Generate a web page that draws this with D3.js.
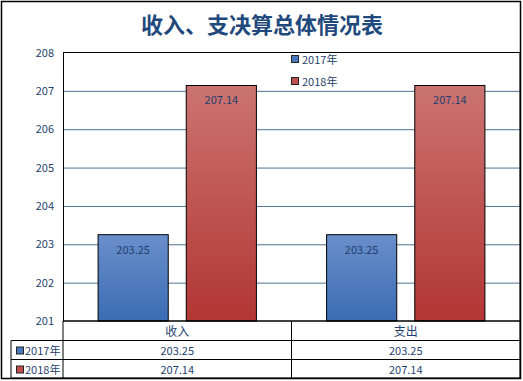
<!DOCTYPE html>
<html><head><meta charset="utf-8">
<script src="https://cdn.jsdelivr.net/npm/d3@7"></script>
<style>body{margin:0;background:#fff}svg{display:block}</style>
</head><body>
<script>
const categories = ["收入", "支出"];
const seriesNames = ["2017年", "2018年"];
const values2017 = [203.25, 203.25];
const values2018 = [207.14, 207.14];
const yTicks = [201, 202, 203, 204, 205, 206, 207, 208];
const title = "收入、支决算总体情况表";

(function () {
const W = 523, H = 381;
const svg = d3.select("body").append("svg").attr("width", W).attr("height", H);
const font = "'Microsoft YaHei','Noto Sans CJK SC','DejaVu Sans',sans-serif";
const txtColor = "#1F3F6E";

const defs = svg.append("defs");
function grad(id, c1, c2) {
  const g = defs.append("linearGradient").attr("id", id).attr("x1", 0).attr("y1", 0).attr("x2", 0).attr("y2", 1);
  g.append("stop").attr("offset", "0%").attr("stop-color", c1);
  g.append("stop").attr("offset", "100%").attr("stop-color", c2);
}
grad("gBlue", "#6A8FCB", "#3A6CB4");
grad("gRed", "#CB7472", "#B23634");
const fills = ["url(#gBlue)", "url(#gRed)"];
const swatch = ["#4A78BD", "#C0504D"];

// outer border
svg.append("rect").attr("x", 1.5).attr("y", 1.5).attr("width", 519).attr("height", 377)
  .attr("fill", "none").attr("stroke", "#000").attr("stroke-width", 1.5);

svg.append("text").attr("x", 262).attr("y", 33).attr("text-anchor", "middle")
  .attr("font-family", font).attr("font-size", 22).attr("font-weight", "bold")
  .attr("fill", "#1F497D").text(title);

const pL = 63, pR = 520, pT = 52.5, pB = 321;
const y = d3.scaleLinear().domain([201, 208]).range([pB, pT]);
const x0 = d3.scaleBand().domain(categories).range([pL, pR]).paddingInner(0).paddingOuter(0);
const x1 = d3.scaleBand().domain(seriesNames).range([0, x0.bandwidth()]).paddingInner(0.2045).paddingOuter(0.398);

// gridlines
svg.append("g").selectAll("line").data(yTicks.filter(t => t > 201 && t < 208)).join("line")
  .attr("x1", pL).attr("x2", pR).attr("y1", d => y(d) + 0.5).attr("y2", d => y(d) + 0.5)
  .attr("stroke", "#4F7391").attr("stroke-width", 1);

// plot frame top & right
svg.append("line").attr("x1", pL).attr("x2", pR).attr("y1", pT).attr("y2", pT).attr("stroke", "#000");
svg.append("line").attr("x1", pR).attr("x2", pR).attr("y1", pT).attr("y2", pB).attr("stroke", "#000");

// y axis labels
const yAxis = d3.axisLeft(y).tickValues(yTicks).tickSize(0).tickPadding(9).tickFormat(d3.format("d"));
const ya = svg.append("g").attr("transform", `translate(${pL},0)`).call(yAxis);
ya.select(".domain").attr("stroke", "#000");
ya.selectAll("text").attr("font-family", font).attr("font-size", 11).attr("fill", txtColor);

// bars
const series = [values2017, values2018];
const g = svg.append("g");
categories.forEach((c, i) => {
  series.forEach((vals, s) => {
    const bx = x0(c) + x1(seriesNames[s]);
    g.append("rect").attr("x", bx).attr("y", y(vals[i])).attr("width", x1.bandwidth())
      .attr("height", y(201) - y(vals[i])).attr("fill", fills[s]).attr("stroke", "#000").attr("stroke-width", 1);
    g.append("text").attr("x", bx + x1.bandwidth() / 2).attr("y", y(vals[i]) + 19)
      .attr("text-anchor", "middle").attr("font-family", font).attr("font-size", 11)
      .attr("fill", txtColor).text(vals[i].toFixed(2));
  });
});

// legend
seriesNames.forEach((n, s) => {
  const ly = 60 + s * 22;
  svg.append("rect").attr("x", 291.5).attr("y", ly - 4.5).attr("width", 7).attr("height", 7)
    .attr("fill", swatch[s]).attr("stroke", "#222").attr("stroke-width", 1);
  svg.append("text").attr("x", 302).attr("y", ly + 4).attr("font-family", font).attr("font-size", 11)
    .attr("fill", txtColor).text(n);
});

// table
const rowY = [321, 340.5, 359.5, 378];
const tb = svg.append("g").attr("stroke", "#000").attr("stroke-width", 1);
tb.append("line").attr("x1", pL).attr("x2", pR).attr("y1", rowY[0]).attr("y2", rowY[0]).attr("stroke-width", 1.5);
[1, 2].forEach(r => tb.append("line").attr("x1", 11).attr("x2", pR).attr("y1", rowY[r]).attr("y2", rowY[r]));
tb.append("line").attr("x1", 11).attr("x2", pR).attr("y1", rowY[3]).attr("y2", rowY[3]);
tb.append("line").attr("x1", 11).attr("x2", 11).attr("y1", rowY[1]).attr("y2", rowY[3]);
tb.append("line").attr("x1", pL).attr("x2", pL).attr("y1", rowY[0]).attr("y2", rowY[3]);
tb.append("line").attr("x1", x0(categories[1])).attr("x2", x0(categories[1])).attr("y1", rowY[0]).attr("y2", rowY[3]);
tb.append("line").attr("x1", pR).attr("x2", pR).attr("y1", rowY[0]).attr("y2", rowY[3]);

categories.forEach((c, i) => {
  const cx = x0(c) + x0.bandwidth() / 2;
  svg.append("text").attr("x", cx).attr("y", rowY[0] + 14.5).attr("text-anchor", "middle")
    .attr("font-family", font).attr("font-size", 12).attr("fill", txtColor).text(c);
  series.forEach((vals, s) => {
    svg.append("text").attr("x", cx).attr("y", rowY[s + 1] + 14).attr("text-anchor", "middle")
      .attr("font-family", font).attr("font-size", 11).attr("fill", txtColor).text(vals[i].toFixed(2));
  });
});
seriesNames.forEach((n, s) => {
  const ry = rowY[s + 1];
  svg.append("rect").attr("x", 16.5).attr("y", ry + 6.5).attr("width", 7).attr("height", 7)
    .attr("fill", swatch[s]).attr("stroke", "#222");
  svg.append("text").attr("x", 25).attr("y", ry + 14).attr("font-family", font).attr("font-size", 11)
    .attr("fill", txtColor).text(n);
});
})();
</script>
</body></html>
